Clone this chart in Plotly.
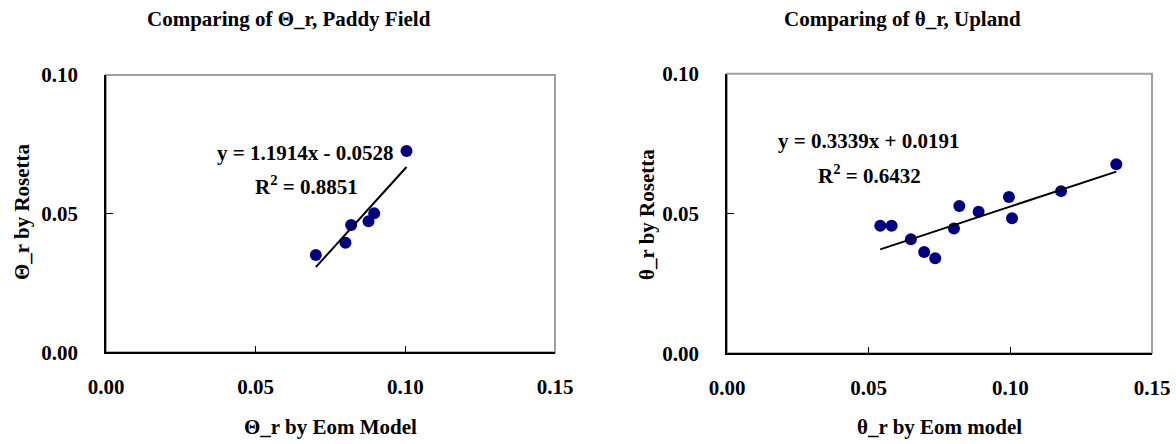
import plotly.graph_objects as go

# ---- data ----
paddy_eom = [0.0701, 0.0800, 0.0819, 0.0877, 0.0896, 0.1004]
paddy_rosetta = [0.0351, 0.0395, 0.0459, 0.0473, 0.0501, 0.0726]
paddy_slope, paddy_intercept = 1.1914, -0.0528
paddy_r2 = 0.8851

upland_eom = [0.0541, 0.0581, 0.0649, 0.0696, 0.0735, 0.0801, 0.0820, 0.0888,
              0.0995, 0.1006, 0.1179, 0.1374]
upland_rosetta = [0.0456, 0.0456, 0.0408, 0.0362, 0.0340, 0.0446, 0.0527, 0.0506,
                  0.0559, 0.0483, 0.0580, 0.0676]
upland_slope, upland_intercept = 0.3339, 0.0191
upland_r2 = 0.6432

x_ticks = [0.00, 0.05, 0.10, 0.15]
y_ticks = [0.00, 0.05, 0.10]

FONT = "Liberation Serif"
FS = 21
MARK = "#000080"

W, H = 1176, 444

fig = go.Figure()

def add_panel(xs, ys, slope, intercept, xa, ya):
    fig.add_trace(go.Scatter(x=xs, y=ys, mode="markers", xaxis=xa, yaxis=ya,
                             marker=dict(color=MARK, size=12, line=dict(width=0)),
                             showlegend=False, hoverinfo="x+y"))
    x0, x1 = min(xs), max(xs)
    fig.add_trace(go.Scatter(x=[x0, x1], y=[slope * x0 + intercept, slope * x1 + intercept],
                             mode="lines", xaxis=xa, yaxis=ya,
                             line=dict(color="black", width=2),
                             showlegend=False, hoverinfo="skip"))

add_panel(paddy_eom, paddy_rosetta, paddy_slope, paddy_intercept, "x", "y")
add_panel(upland_eom, upland_rosetta, upland_slope, upland_intercept, "x2", "y2")

def px_x(p):
    return p / W

def px_y(p):
    return 1 - p / H

axis_common = dict(
    showgrid=False, zeroline=False, showline=True, linecolor="black", linewidth=1.5,
    ticks="inside", ticklen=7, tickcolor="black", tickwidth=1,
    tickfont=dict(family=FONT, size=FS, color="black", weight="bold"),
    tickformat=".2f", fixedrange=True, automargin=False,
)

fig.update_layout(
    width=W, height=H,
    margin=dict(l=0, r=0, t=0, b=0, autoexpand=False),
    paper_bgcolor="white", plot_bgcolor="white",
    font=dict(family=FONT, size=FS, color="black"),
    xaxis=dict(domain=[px_x(106), px_x(555)], range=[0, 0.15], tickvals=x_ticks,
               anchor="y", ticklabelstandoff=15, **axis_common),
    yaxis=dict(domain=[px_y(352.3), px_y(75)], range=[0, 0.10], tickvals=y_ticks,
               anchor="x", ticklabelstandoff=22, **axis_common),
    xaxis2=dict(domain=[px_x(727), px_x(1152)], range=[0, 0.15], tickvals=x_ticks,
                anchor="y2", ticklabelstandoff=15, **axis_common),
    yaxis2=dict(domain=[px_y(353.3), px_y(73.7)], range=[0, 0.10], tickvals=y_ticks,
                anchor="x2", ticklabelstandoff=22, **axis_common),
)

# light grey frame (top/right) behind the black axis lines
for xa, ya in (("x", "y"), ("x2", "y2")):
    fig.add_shape(type="rect", xref=f"{xa} domain", yref=f"{ya} domain",
                  x0=0, x1=1, y0=0, y1=1, line=dict(color="#a0a0a0", width=2),
                  layer="below")

bold = dict(family=FONT, size=FS, color="black", weight="bold")

def ann(text, x, y, angle=0, xanchor="center"):
    fig.add_annotation(text=text, x=px_x(x), y=px_y(y), xref="paper", yref="paper",
                       showarrow=False, font=bold, textangle=angle,
                       xanchor=xanchor, yanchor="middle")

# titles
ann("Comparing of \u0398_r, Paddy Field", 289, 19)
ann("Comparing of \u03b8_r, Upland", 902, 19)
# axis titles
ann("\u0398_r by Eom Model", 330, 427)
ann("\u03b8_r by Eom model", 939, 427)
ann("\u0398_r by Rosetta", 22, 212, angle=-90)
ann("\u03b8_r by Rosetta", 647, 215, angle=-90)

# regression labels
def fmt_eq(s, b):
    sign = "-" if b < 0 else "+"
    return f"y = {s:.4f}x {sign} {abs(b):.4f}"

ann(fmt_eq(paddy_slope, paddy_intercept), 305, 153)
ann(f"R<sup>2</sup> = {paddy_r2:.4f}", 306, 186)
ann(fmt_eq(upland_slope, upland_intercept), 868, 141)
ann(f"R<sup>2</sup> = {upland_r2:.4f}", 869, 174)

fig.write_html("out.html",
               config={"displayModeBar": False},
               post_script="document.body.style.margin='0';document.body.style.overflow='hidden';")
